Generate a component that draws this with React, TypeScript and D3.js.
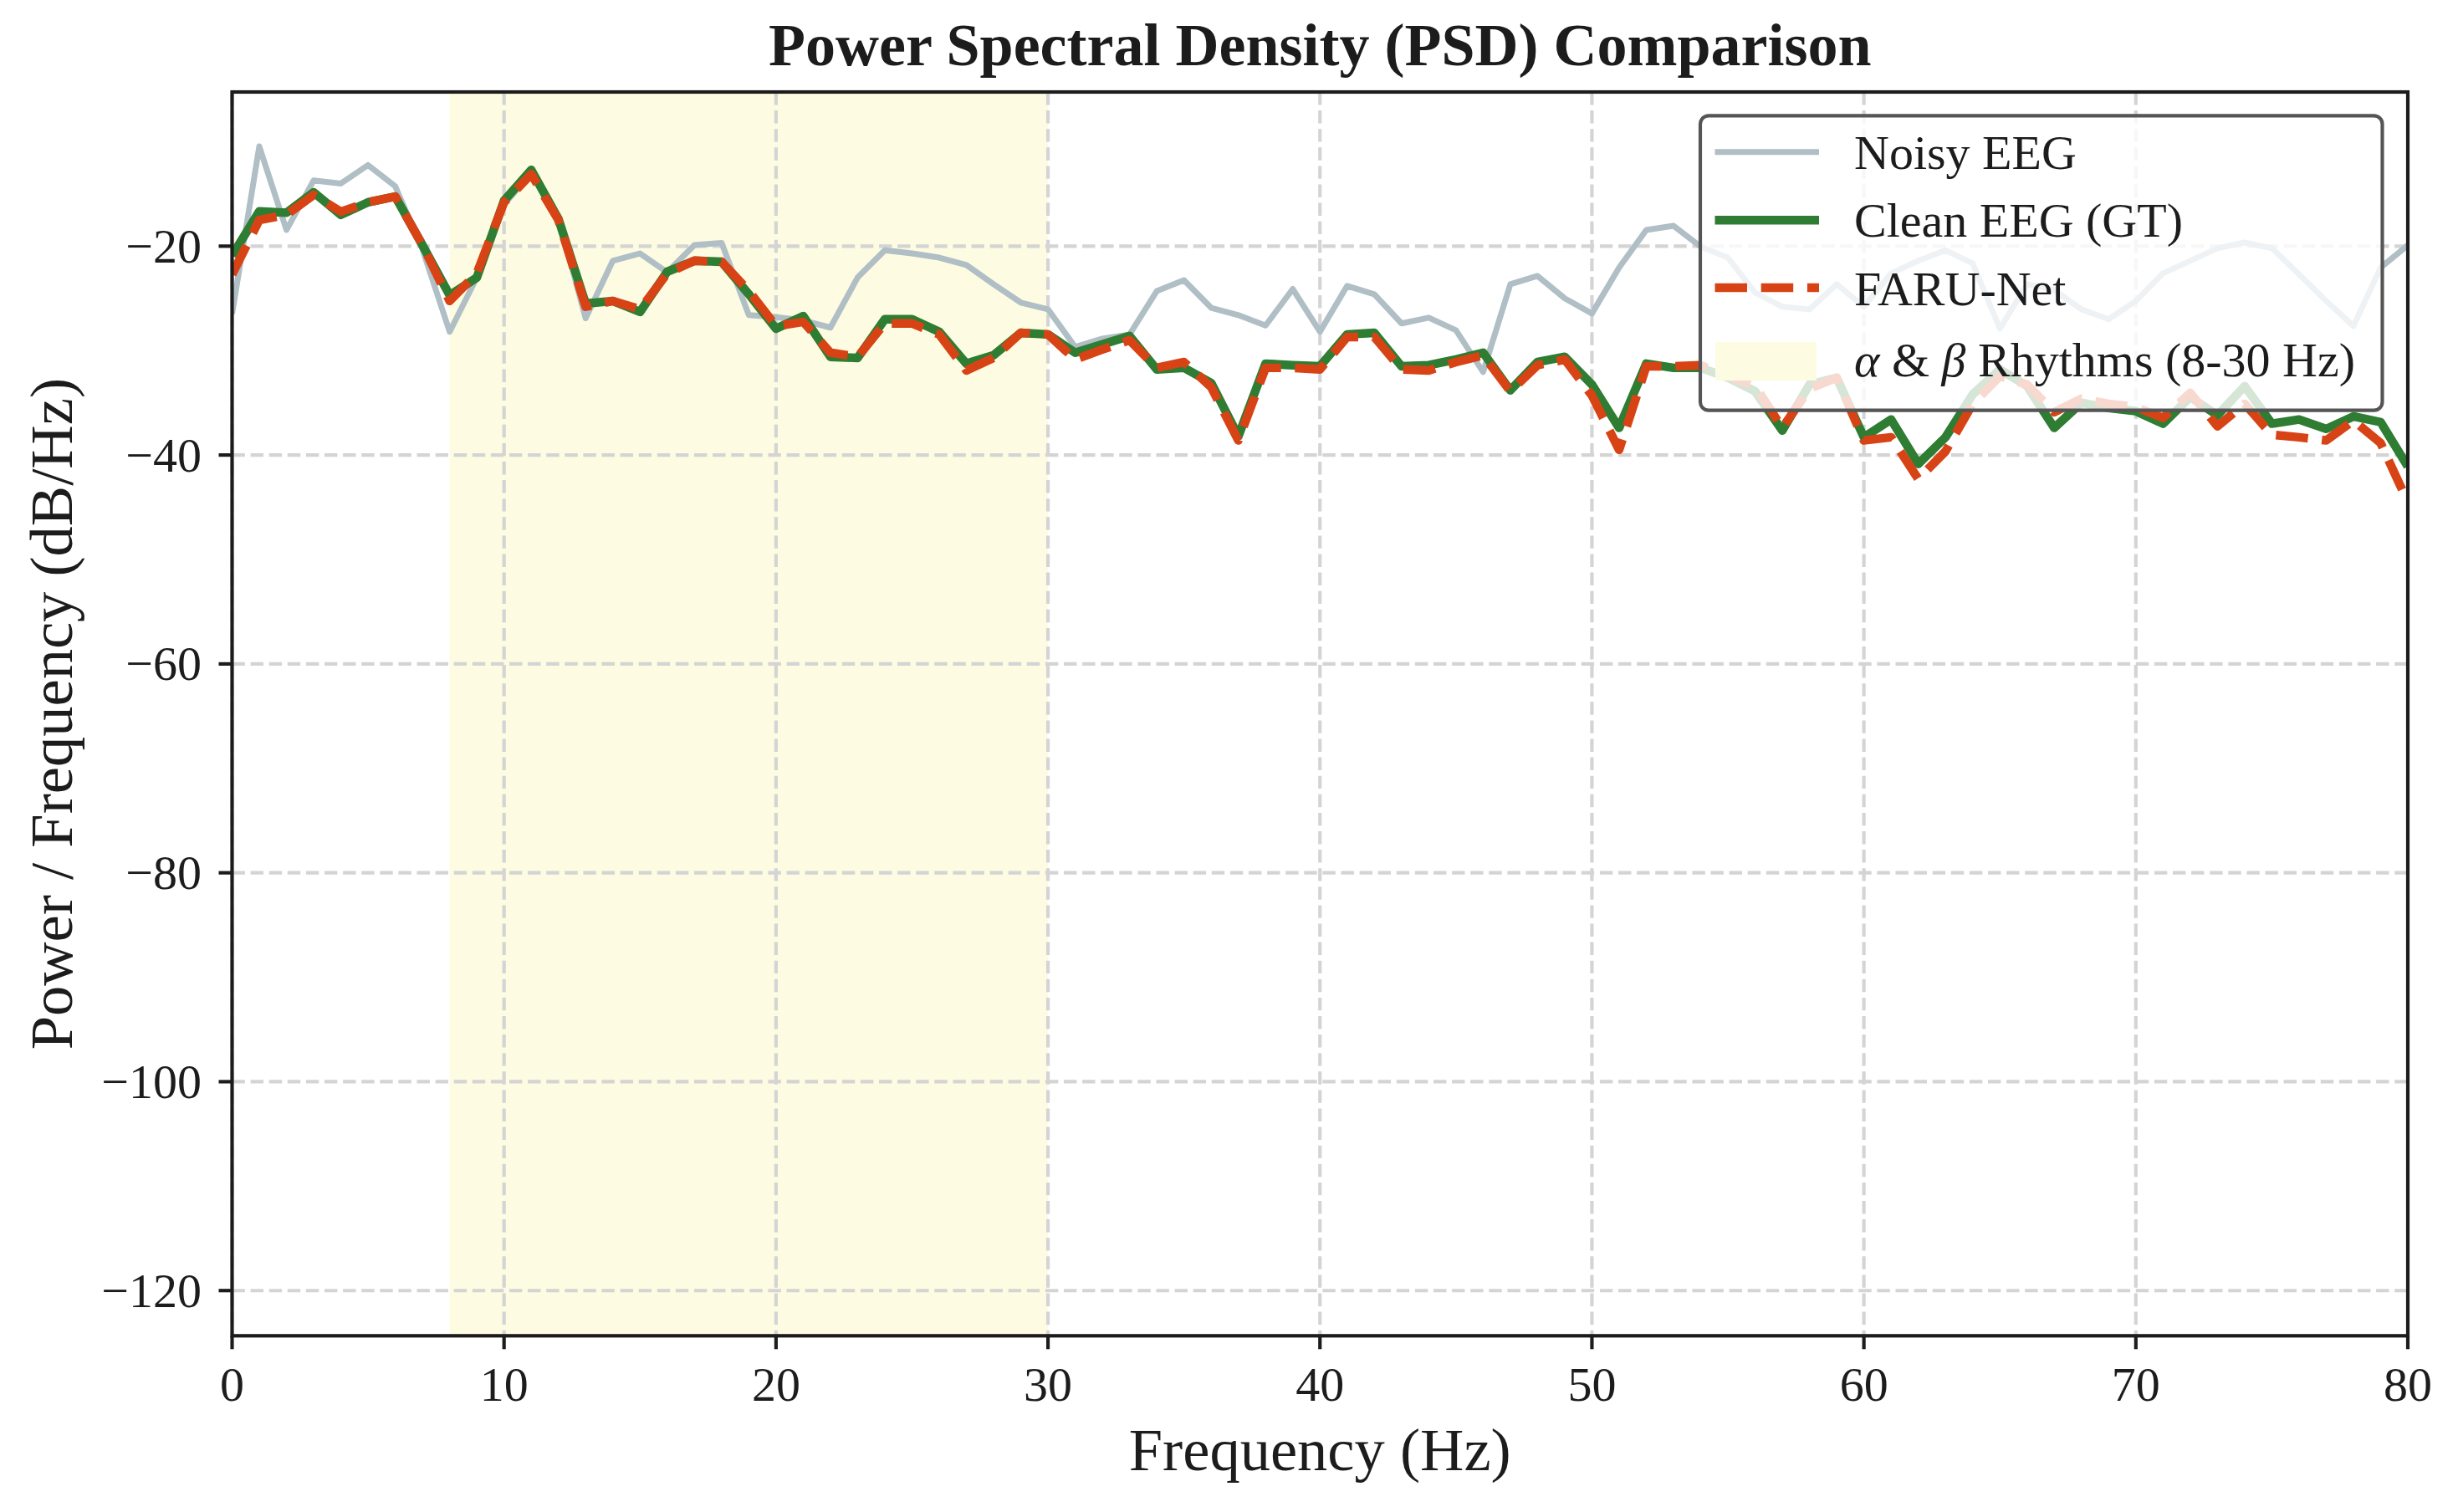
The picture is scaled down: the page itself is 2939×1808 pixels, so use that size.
import * as d3 from 'd3'

// frequency bins (Hz)
const freqs = [
  0, 1, 2, 3, 4, 5, 6, 7, 8, 9, 10, 11, 12, 13, 14, 15, 16, 17, 18, 19, 20,
  21, 22, 23, 24, 25, 26, 27, 28, 29, 30, 31, 32, 33, 34, 35, 36, 37, 38, 39, 40,
  41, 42, 43, 44, 45, 46, 47, 48, 49, 50, 51, 52, 53, 54, 55, 56, 57, 58, 59, 60,
  61, 62, 63, 64, 65, 66, 67, 68, 69, 70, 71, 72, 73, 74, 75, 76, 77, 78, 79, 80,
]

const noisy = [
  -26.5, -10.45, -18.45, -13.7, -14.0, -12.24, -14.27, -20.3, -28.2, -23.0, -16.0,
  -13.0, -17.3, -26.9, -21.4, -20.7, -22.5, -19.9, -19.7, -26.6, -26.8,
  -27.1, -27.8, -23.0, -20.4, -20.7, -21.1, -21.8, -23.65, -25.4, -26.05,
  -29.65, -28.85, -28.45, -24.3, -23.25, -25.9, -26.6, -27.6, -24.1, -28.2,
  -23.8, -24.6, -27.4, -26.85, -28.05, -32.05, -23.65, -22.85, -25.0, -26.45,
  -22.05, -18.45, -18.05, -20.05, -21.1, -24.45, -25.8, -26.05, -23.65, -25.8,
  -22.6, -21.4, -20.4, -21.65, -27.9, -23.65, -24.2, -26.05, -27.0, -25.25,
  -22.6, -21.4, -20.2, -19.65, -20.2, -22.7, -25.25, -27.65, -22.05, -19.9,
]

const clean = [
  -20.9, -16.67, -16.8, -14.85, -17.0, -15.8, -15.25, -19.9, -24.7, -23.0, -15.65,
  -12.7, -17.4, -25.5, -25.25, -26.3, -22.45, -21.4, -21.5, -24.6, -27.9,
  -26.7, -30.6, -30.7, -27.0, -27.0, -28.2, -31.25, -30.45, -28.3, -28.45,
  -30.2, -29.4, -28.6, -31.8, -31.65, -33.1, -38.2, -31.25, -31.4, -31.5,
  -28.45, -28.3, -31.5, -31.4, -30.85, -30.2, -33.8, -31.1, -30.6, -33.25,
  -37.4, -31.25, -31.65, -31.65, -32.6, -33.9, -37.65, -33.25, -32.6, -38.3,
  -36.6, -40.85, -38.3, -34.2, -31.8, -33.4, -37.4, -35.0, -35.5, -35.8,
  -37.0, -34.45, -36.2, -33.4, -37.0, -36.6, -37.5, -36.3, -36.85, -41.1,
]

const faru = [
  -22.7, -17.5, -17.0, -15.1, -16.7, -15.8, -15.25, -19.9, -25.25, -22.6, -15.8,
  -13.1, -17.5, -25.8, -25.25, -26.05, -22.6, -21.4, -21.5, -24.3, -27.65,
  -27.25, -30.2, -30.6, -27.4, -27.4, -28.45, -31.9, -30.7, -28.3, -28.45,
  -30.85, -29.9, -29.0, -31.65, -31.1, -33.5, -38.6, -31.65, -31.65, -31.8,
  -28.7, -28.7, -31.8, -31.9, -31.1, -30.45, -33.9, -31.4, -30.85, -34.3,
  -39.5, -31.5, -31.5, -31.4, -32.45, -33.4, -37.4, -33.65, -32.6, -38.6,
  -38.3, -42.3, -39.65, -35.1, -32.45, -33.25, -35.9, -34.6, -35.1, -35.4,
  -36.45, -34.05, -37.25, -35.1, -38.05, -38.3, -38.6, -36.7, -38.85, -44.5,
]

const band = [8, 30]
const xTicks = [0, 10, 20, 30, 40, 50, 60, 70, 80]
const yTicks = [-120, -100, -80, -60, -40, -20]

const W = 2939
const H = 1808
const PLOT = { left: 277.5, right: 2879, top: 110, bottom: 1597.3 }
const FONT = "'Liberation Serif', 'Times New Roman', serif"
const INK = '#1c1c1c'
const C_NOISY = '#B0BEC5'
const C_CLEAN = '#2E7D32'
const C_FARU = '#D84315'
const C_BAND = '#fdfbe1'
const C_GRID = '#d4d4d4'

export default function App() {
  const x = d3.scaleLinear().domain([0, 80]).range([PLOT.left, PLOT.right])
  const y = d3.scaleLinear().domain([-124.33, -5.24]).range([PLOT.bottom, PLOT.top])

  const line = (vals: number[]) =>
    d3
      .line<number>()
      .x((_, i) => x(freqs[i]))
      .y((d) => y(d))(vals) ?? ''

  const cx = (PLOT.left + PLOT.right) / 2
  const cy = (PLOT.top + PLOT.bottom) / 2

  const legendRows = [
    { key: 'noisy', label: 'Noisy EEG', lineY: 181.7, base: 201.7 },
    { key: 'clean', label: 'Clean EEG (GT)', lineY: 263.3, base: 282.7 },
    { key: 'faru', label: 'FARU-Net', lineY: 344, base: 365 },
  ]

  return (
    <svg
      width={W}
      height={H}
      style={{ position: 'absolute', left: 0, top: 0, background: '#fff' }}
      fontFamily={FONT}
    >
      <defs>
        <clipPath id="plot-clip">
          <rect x={PLOT.left} y={PLOT.top} width={PLOT.right - PLOT.left} height={PLOT.bottom - PLOT.top} />
        </clipPath>
      </defs>
      <rect x={0} y={0} width={W} height={H} fill="#fff" />

      {/* alpha & beta band */}
      <rect
        x={x(band[0])}
        y={PLOT.top}
        width={x(band[1]) - x(band[0])}
        height={PLOT.bottom - PLOT.top}
        fill={C_BAND}
      />

      {/* grid */}
      <g stroke={C_GRID} strokeWidth={4.17} strokeDasharray="15.4 6.7">
        {xTicks.map((t) => (
          <line key={'gx' + t} x1={x(t)} x2={x(t)} y1={PLOT.top} y2={PLOT.bottom} />
        ))}
        {yTicks.map((t) => (
          <line key={'gy' + t} x1={PLOT.left} x2={PLOT.right} y1={y(t)} y2={y(t)} />
        ))}
      </g>

      {/* series */}
      <g clipPath="url(#plot-clip)" fill="none" strokeLinejoin="round">
        <path d={line(noisy)} stroke={C_NOISY} strokeWidth={7} />
        <path d={line(clean)} stroke={C_CLEAN} strokeWidth={10.4} />
        <path d={line(faru)} stroke={C_FARU} strokeWidth={10.4} strokeDasharray="38.5 16.7" />
      </g>

      {/* spines */}
      <rect
        x={PLOT.left}
        y={PLOT.top}
        width={PLOT.right - PLOT.left}
        height={PLOT.bottom - PLOT.top}
        fill="none"
        stroke={INK}
        strokeWidth={4.17}
      />

      {/* x axis */}
      <g>
        {xTicks.map((t) => (
          <g key={'xt' + t}>
            <line x1={x(t)} x2={x(t)} y1={PLOT.bottom} y2={PLOT.bottom + 16} stroke={INK} strokeWidth={4.17} />
            <text x={x(t)} y={1675} textAnchor="middle" fontSize={58} fill={INK}>
              {t}
            </text>
          </g>
        ))}
      </g>

      {/* y axis */}
      <g>
        {yTicks.map((t) => (
          <g key={'yt' + t}>
            <line x1={PLOT.left - 16} x2={PLOT.left} y1={y(t)} y2={y(t)} stroke={INK} strokeWidth={4.17} />
            <text x={241} y={y(t) + 19.5} textAnchor="end" fontSize={58} fill={INK}>
              {'\u2212' + Math.abs(t)}
            </text>
          </g>
        ))}
      </g>

      {/* labels */}
      <text x={cx} y={78} textAnchor="middle" fontSize={72} fontWeight="bold" fill={INK}>
        Power Spectral Density (PSD) Comparison
      </text>
      <text x={cx} y={1758} textAnchor="middle" fontSize={72.5} fill={INK}>
        Frequency (Hz)
      </text>
      <text
        transform={`translate(86,${cy}) rotate(-90)`}
        textAnchor="middle"
        fontSize={72.5}
        fill={INK}
      >
        Power / Frequency (dB/Hz)
      </text>

      {/* legend */}
      <g>
        <rect
          x={2033}
          y={138.3}
          width={815.5}
          height={352.4}
          rx={10}
          fill="#fff"
          fillOpacity={0.8}
          stroke="#555"
          strokeWidth={4.17}
        />
        {legendRows.map((r) => (
          <g key={r.key}>
            {r.key === 'noisy' && (
              <line x1={2050.5} x2={2175} y1={r.lineY} y2={r.lineY} stroke={C_NOISY} strokeWidth={7} />
            )}
            {r.key === 'clean' && (
              <line x1={2050.5} x2={2175} y1={r.lineY} y2={r.lineY} stroke={C_CLEAN} strokeWidth={10.4} />
            )}
            {r.key === 'faru' && (
              <line
                x1={2050.5}
                x2={2175}
                y1={r.lineY}
                y2={r.lineY}
                stroke={C_FARU}
                strokeWidth={10.4}
                strokeDasharray="38.5 16.7"
              />
            )}
            <text x={2217} y={r.base} fontSize={58} fill={INK}>
              {r.label}
            </text>
          </g>
        ))}
        <rect x={2051} y={409} width={121} height={46} fill={C_BAND} />
        <text x={2217} y={450} fontSize={58} fill={INK}>
          <tspan fontStyle="italic">α</tspan>
          {' & '}
          <tspan fontStyle="italic">β</tspan>
          {' Rhythms (8-30 Hz)'}
        </text>
      </g>
    </svg>
  )
}
